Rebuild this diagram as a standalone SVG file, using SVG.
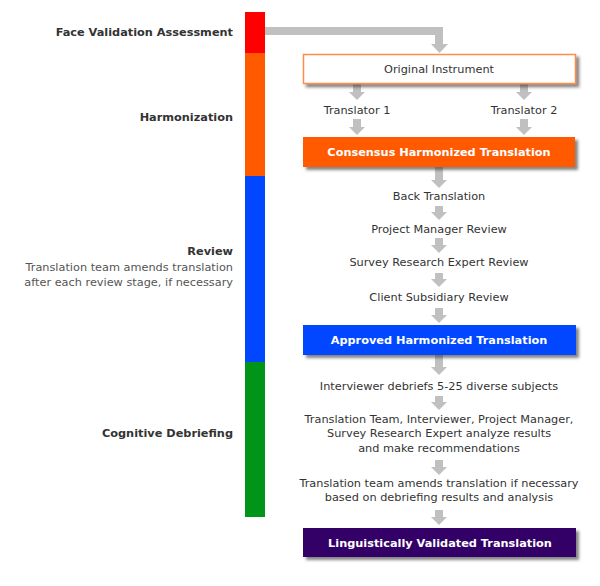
<svg xmlns="http://www.w3.org/2000/svg" width="600" height="586" viewBox="0 0 600 586">
<defs>
<filter id="sh" x="-10%" y="-30%" width="125%" height="180%">
<feDropShadow dx="3" dy="3" stdDeviation="1.8" flood-color="#333" flood-opacity="0.6"/>
</filter>
</defs>
<style>
text{font-family:"DejaVu Sans",Verdana,sans-serif;font-size:11.3px;}
.lab{font-weight:bold;fill:#333;text-anchor:end;}
.note{fill:#555;text-anchor:end;}
.step{fill:#333;text-anchor:middle;}
.btxt{font-weight:bold;fill:#fff;text-anchor:middle;}
.arr{fill:#c0c0c0;}
</style>
<rect width="600" height="586" fill="#fff"/>
<g id="phase-bar">
<rect x="245" y="12" width="20" height="41" fill="#ff0000"/>
<rect x="245" y="53" width="20" height="123" fill="#ff5a00"/>
<rect x="245" y="176" width="20" height="186" fill="#0047ff"/>
<rect x="245" y="362" width="20" height="155" fill="#009418"/>
</g>
<g id="phase-labels">
<text class="lab" x="233" y="36">Face Validation Assessment</text>
<text class="lab" x="233" y="121">Harmonization</text>
<text class="lab" x="233" y="255">Review</text>
<text class="note" x="233" y="271">Translation team amends translation</text>
<text class="note" x="233" y="286">after each review stage, if necessary</text>
<text class="lab" x="233" y="437">Cognitive Debriefing</text>
</g>
<g id="connectors" class="arr">
<path d="M265 27 H443 V44 H448 L439.5 53 L431 44 H435 V35 H265 Z"/>
<path d="M353 83 H361 V92 H365 L357 100 L349 92 H353 Z"/>
<path d="M353 119 H361 V127 H365 L357 135 L349 127 H353 Z"/>
<path d="M520 83 H528 V92 H532 L524 100 L516 92 H520 Z"/>
<path d="M520 119 H528 V127 H532 L524 135 L516 127 H520 Z"/>
<path d="M435 167 H443 V180 H447 L439 188 L431 180 H435 Z"/>
<path d="M435 206 H443 V212 H447 L439 220 L431 212 H435 Z"/>
<path d="M435 238 H443 V245 H447 L439 253 L431 245 H435 Z"/>
<path d="M435 273 H443 V279 H447 L439 287 L431 279 H435 Z"/>
<path d="M435 308 H443 V315 H447 L439 323 L431 315 H435 Z"/>
<path d="M435 355 H443 V367 H447 L439 375 L431 367 H435 Z"/>
<path d="M435 396 H443 V402 H447 L439 410 L431 402 H435 Z"/>
<path d="M435 460 H443 V467 H447 L439 475 L431 467 H435 Z"/>
<path d="M435 510 H443 V517 H447 L439 525 L431 517 H435 Z"/>
</g>
<g id="original-instrument">
<rect x="303.5" y="54.5" width="272" height="29" fill="#fff" stroke="#ff8c4a" stroke-width="1.5" filter="url(#sh)"/>
<text class="step" x="439" y="73">Original Instrument</text>
</g>
<g id="translator-1"><text class="step" x="357" y="114">Translator 1</text></g>
<g id="translator-2"><text class="step" x="524" y="114">Translator 2</text></g>
<g id="consensus">
<rect x="303" y="137" width="272" height="30" fill="#ff5a00" filter="url(#sh)"/>
<text class="btxt" x="439" y="156">Consensus Harmonized Translation</text>
</g>
<g id="back-translation"><text class="step" x="439" y="200">Back Translation</text></g>
<g id="pm-review"><text class="step" x="439" y="233">Project Manager Review</text></g>
<g id="sre-review"><text class="step" x="439" y="266">Survey Research Expert Review</text></g>
<g id="client-review"><text class="step" x="439" y="301">Client Subsidiary Review</text></g>
<g id="approved">
<rect x="303" y="325" width="273" height="30" fill="#0047ff" filter="url(#sh)"/>
<text class="btxt" x="439" y="344">Approved Harmonized Translation</text>
</g>
<g id="interviewer"><text class="step" x="439" y="390">Interviewer debriefs 5-25 diverse subjects</text></g>
<g id="analyze">
<text class="step" x="439" y="423">Translation Team, Interviewer, Project Manager,</text>
<text class="step" x="439" y="437">Survey Research Expert analyze results</text>
<text class="step" x="439" y="452">and make recommendations</text>
</g>
<g id="amend">
<text class="step" x="439" y="487">Translation team amends translation if necessary</text>
<text class="step" x="439" y="501">based on debriefing results and analysis</text>
</g>
<g id="validated">
<rect x="303" y="528" width="273" height="29" fill="#330066" filter="url(#sh)"/>
<text class="btxt" x="440" y="547">Linguistically Validated Translation</text>
</g>
</svg>
